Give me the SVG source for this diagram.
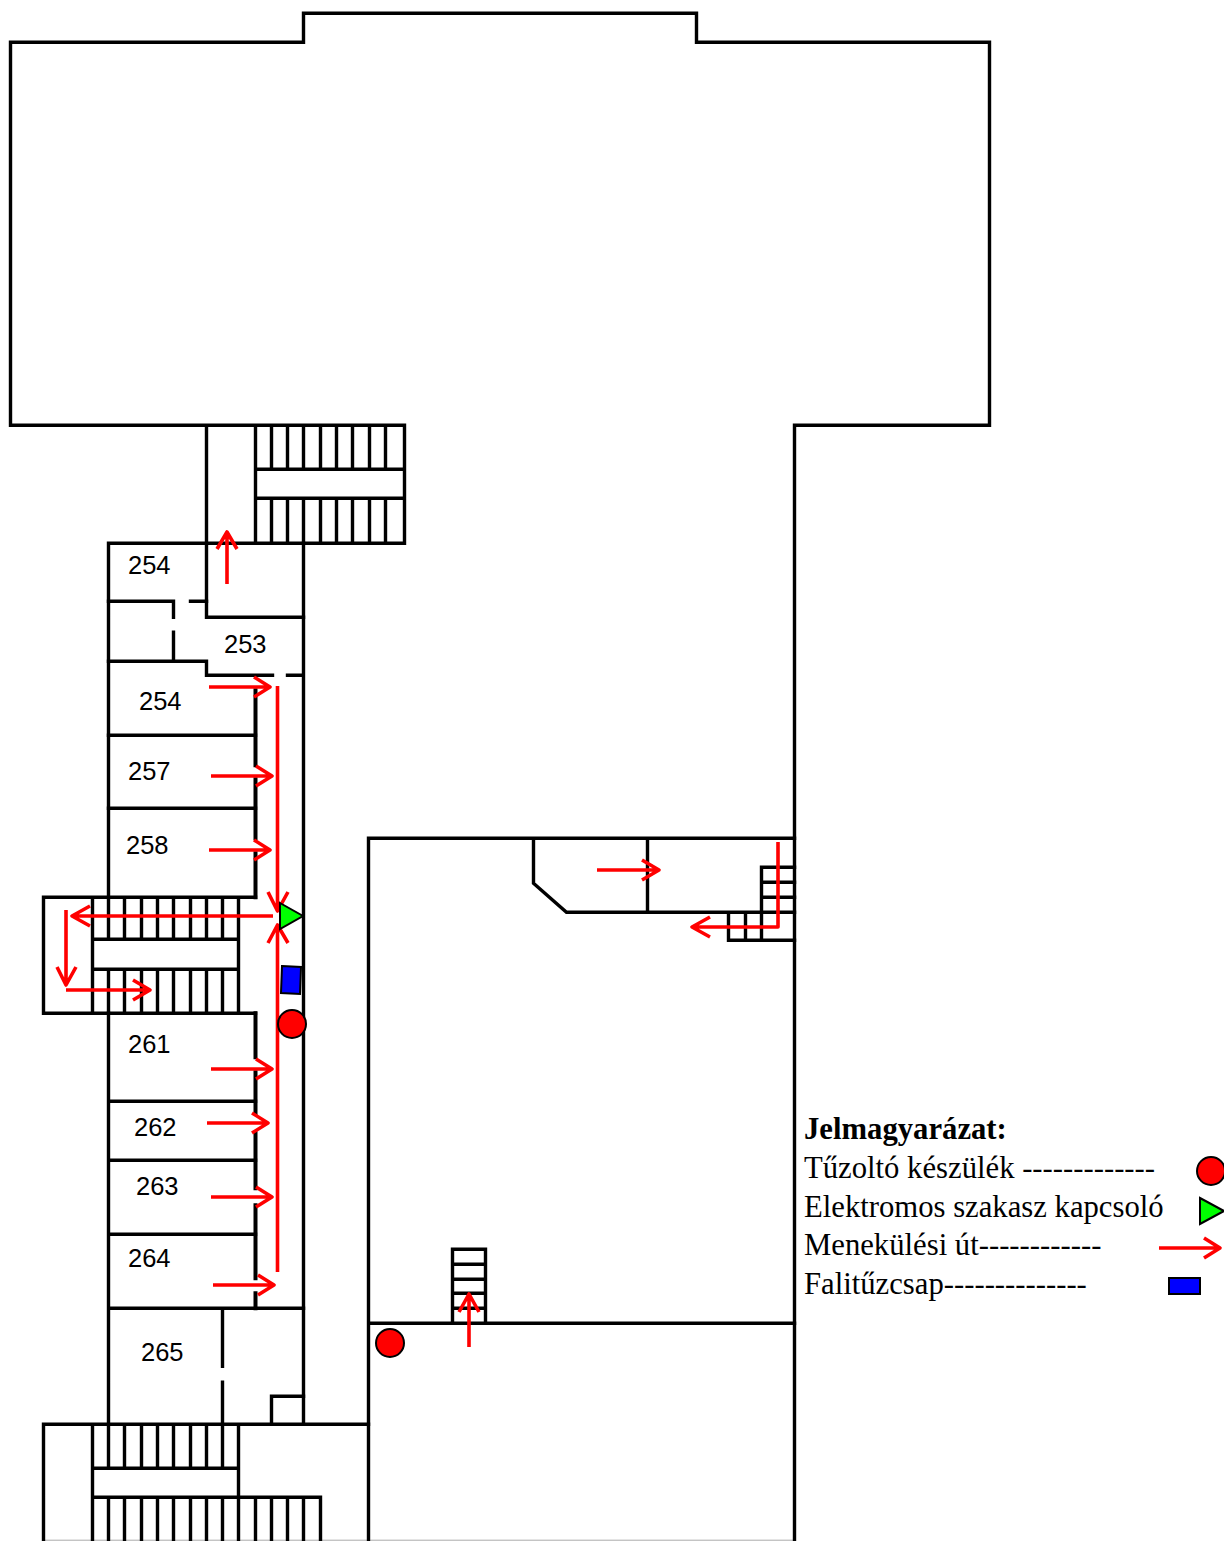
<svg xmlns="http://www.w3.org/2000/svg" width="1224" height="1541" viewBox="0 0 1224 1541">
<style>
.w{fill:none;stroke:#000;stroke-width:3.4;stroke-linecap:square}
.k{stroke-width:4}
.b{fill:none;stroke:#aaa;stroke-width:1}
.a{fill:none;stroke:#f00;stroke-width:3.6;stroke-linejoin:round}
.s{stroke:#000;stroke-width:2}
.l{font-family:"Liberation Sans",Arial,sans-serif;font-size:25.5px;fill:#000}
.t{font-family:"Liberation Serif","Times New Roman",serif;font-size:30.7px;fill:#000}
</style>
<rect width="1224" height="1541" fill="#fff"/>
<g id="walls" transform="translate(0.5 0.2)">
<path class="b" d="M43 1540H794"/>
<path class="w" d="M10 425V42H303V13H696V42H989V425H794V1540M10 425H404V543H108V897M206 425V617H303M255 425V469M271 425V469M287 425V469M303 425V469M320 425V469M336 425V469M352 425V469M369 425V469M385 425V469M255 498V543M271 498V543M287 498V543M303 498V543M320 498V543M336 498V543M352 498V543M369 498V543M385 498V543M255 425V543M255 469H404M255 498H404"/>
<path class="w" d="M303 543V1424M108 601H173V617M190 601H206M173 632V661M108 661H206V675H272M287 675H303"/>
<path class="w k" d="M255 690V765M255 779V838M255 853V897M255 1013V1057M255 1072V1113M255 1133V1188M255 1205V1278M255 1293V1308"/>
<path class="w" d="M108 735H255M108 808H255M43 897H255M43 897V1013H255M92 897V1013M108 897V939M124 897V939M141 897V939M157 897V939M173 897V939M190 897V939M206 897V939M222 897V939M238 897V1013M92 939H238M92 969H238M108 969V1013M124 969V1013M141 969V1013M157 969V1013M173 969V1013M190 969V1013M206 969V1013M222 969V1013"/>
<path class="w" d="M108 1013V1424M108 1101H255M108 1160H255M108 1234H255M108 1308H303M222 1308V1366M222 1382V1468M271 1424V1396H303"/>
<path class="w" d="M43 1424H368M43 1424V1539M92 1424V1539M108 1424V1468M124 1424V1468M141 1424V1468M157 1424V1468M173 1424V1468M190 1424V1468M206 1424V1468M238 1424V1497M92 1468H238M92 1497H320V1539M108 1497V1539M124 1497V1539M141 1497V1539M157 1497V1539M173 1497V1539M190 1497V1539M206 1497V1539M222 1497V1539M238 1497V1539M255 1497V1539M271 1497V1539M287 1497V1539M303 1497V1539"/>
<path class="w" d="M368 1539V838H794M368 1323H794M533 838V883L566 912H794M647 838V912M761 867V940M761 867H794M761 882H794M761 897H794M728 912V940H794M745 912V940"/>
<path class="w" d="M452 1323V1249H485V1323M452 1264H485M452 1279H485M452 1293H485M452 1308H485"/>
</g>
<g id="labels">
<text class="l" x="128" y="574">254</text>
<text class="l" x="224" y="653">253</text>
<text class="l" x="139" y="710">254</text>
<text class="l" x="128" y="780">257</text>
<text class="l" x="126" y="854">258</text>
<text class="l" x="128" y="1053">261</text>
<text class="l" x="134" y="1136">262</text>
<text class="l" x="136" y="1195">263</text>
<text class="l" x="128" y="1267">264</text>
<text class="l" x="141" y="1361">265</text>
</g>
<g id="connectors">
<path class="a" d="M227 584V532M217 549L227 532L237 549"/>
<path class="a" d="M209 687H270M254 677L270 687L254 697"/>
<path class="a" d="M211 776H272M256 766L272 776L256 786"/>
<path class="a" d="M209 850H270M254 840L270 850L254 860"/>
<path class="a" d="M277.500 686V911M268 892L277.500 911L288 892"/>
<path class="a" d="M277.500 1272V925M268 943L277.500 925L288 943"/>
<path class="a" d="M273 916H72M90 906L72 916L90 926"/>
<path class="a" d="M66 910V985M57 967L66 985L76 967"/>
<path class="a" d="M66 990H150M133 980L150 990L133 1000"/>
<path class="a" d="M211 1069H272M256 1059L272 1069L256 1079"/>
<path class="a" d="M207 1123H268M252 1113L268 1123L252 1133"/>
<path class="a" d="M211 1197H272M256 1187L272 1197L256 1207"/>
<path class="a" d="M213 1285H274M258 1275L274 1285L258 1295"/>
<path class="a" d="M597 870H659M642 860L659 870L642 880"/>
<path class="a" d="M778 842V927H692M710 917L692 927L710 937"/>
<path class="a" d="M469 1347V1294M459 1312L469 1294L479 1312"/>
</g>
<g id="symbols">
<polygon class="s" fill="#0f0" points="280,903 303,916 280,929"/>
<polygon class="s" fill="#00f" points="282,966 301,967 300,994 281,993"/>
<circle class="s" fill="#f00" cx="292" cy="1024" r="14"/>
<circle class="s" fill="#f00" cx="390" cy="1343" r="14"/>
</g>
<g id="legend">
<text class="t" x="804" y="1138.700" font-weight="bold">Jelmagyarázat:</text>
<text class="t" x="804" y="1177.700">Tűzoltó készülék -------------</text>
<text class="t" x="804" y="1216.700">Elektromos szakasz kapcsoló</text>
<text class="t" x="804" y="1254.700">Menekülési út------------</text>
<text class="t" x="804" y="1293.700">Falitűzcsap--------------</text>
<circle class="s" fill="#f00" cx="1211" cy="1171" r="14"/>
<polygon class="s" fill="#0f0" points="1200,1198 1224,1211 1200,1224"/>
<path class="a" d="M1159 1248H1220M1204 1238L1220 1248L1204 1258"/>
<rect class="s" fill="#00f" x="1169" y="1278" width="31" height="16"/>
</g>
</svg>
